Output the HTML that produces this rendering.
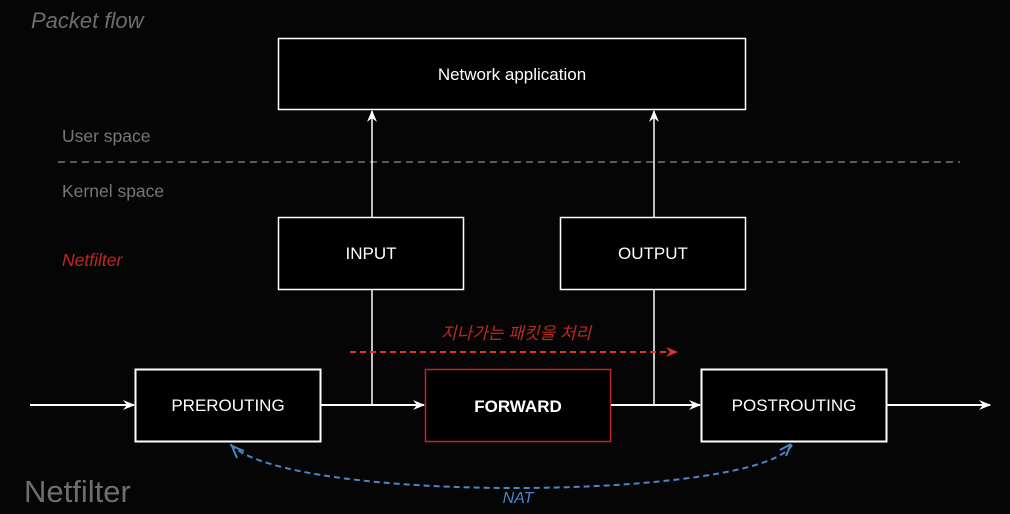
<!DOCTYPE html>
<html><head><meta charset="utf-8"><style>
html,body{margin:0;padding:0;background:#050505;}
svg{display:block}
.h{font-family:"Comic Sans MS","Liberation Sans","Noto Sans CJK KR",sans-serif;fill:#fff;font-size:17px;text-anchor:middle}
</style></head><body>
<svg width="1010" height="514" viewBox="0 0 1010 514" xmlns="http://www.w3.org/2000/svg">
<defs>
<marker id="aw" markerWidth="12" markerHeight="10" refX="11" refY="5" orient="auto" markerUnits="userSpaceOnUse"><path d="M0,0 L12,5 L0,10 L4,5 Z" fill="#fff"/></marker>
<marker id="ar" markerWidth="12" markerHeight="10" refX="11" refY="5" orient="auto" markerUnits="userSpaceOnUse"><path d="M0,0 L12,5 L0,10 L4,5 Z" fill="#e0302a"/></marker>
</defs>
<rect width="1010" height="514" fill="#050505"/>
<text x="31" y="28" font-family="Liberation Sans,sans-serif" font-style="italic" font-size="22" fill="#6e6e6e">Packet flow</text>
<text x="62" y="142" font-family="Liberation Sans,sans-serif" font-size="17.5" fill="#777">User space</text>
<text x="62" y="197" font-family="Liberation Sans,sans-serif" font-size="17.5" fill="#777">Kernel space</text>
<text x="62" y="266" font-family="Liberation Sans,sans-serif" font-style="italic" font-size="17.5" fill="#c0281f">Netfilter</text>
<text x="24" y="502" font-family="Liberation Sans,sans-serif" font-size="31" fill="#6e6e6e">Netfilter</text>
<line x1="58" y1="162" x2="960" y2="162" stroke="#777" stroke-width="1.5" stroke-dasharray="7,5"/>
<rect x="278.5" y="38.5" width="467" height="71" fill="#000" stroke="#fff" stroke-width="1.5"/>
<text class="h" x="512" y="80">Network application</text>
<rect x="278.5" y="217.5" width="185" height="72" fill="#000" stroke="#fff" stroke-width="1.5"/>
<text class="h" x="371" y="259">INPUT</text>
<rect x="560.5" y="217.5" width="185" height="72" fill="#000" stroke="#fff" stroke-width="1.5"/>
<text class="h" x="653" y="259">OUTPUT</text>
<line x1="372" y1="217" x2="372" y2="111" stroke="#fff" stroke-width="1.5" marker-end="url(#aw)"/>
<line x1="654" y1="217" x2="654" y2="111" stroke="#fff" stroke-width="1.5" marker-end="url(#aw)"/>
<line x1="372" y1="290" x2="372" y2="405" stroke="#fff" stroke-width="1.5"/>
<line x1="654" y1="290" x2="654" y2="405" stroke="#fff" stroke-width="1.5"/>
<rect x="135.5" y="369.5" width="185" height="72" fill="#000" stroke="#fff" stroke-width="2"/>
<text class="h" x="228" y="411">PREROUTING</text>
<rect x="425.5" y="369.5" width="185" height="72" fill="#000" stroke="#c0281f" stroke-width="1.5"/>
<text class="h" x="518" y="412" font-weight="bold">FORWARD</text>
<rect x="701.5" y="369.5" width="185" height="72" fill="#000" stroke="#fff" stroke-width="2"/>
<text class="h" x="794" y="411">POSTROUTING</text>
<line x1="30" y1="405" x2="134" y2="405" stroke="#fff" stroke-width="2" marker-end="url(#aw)"/>
<line x1="321" y1="405" x2="424" y2="405" stroke="#fff" stroke-width="2" marker-end="url(#aw)"/>
<line x1="611" y1="405" x2="700" y2="405" stroke="#fff" stroke-width="2" marker-end="url(#aw)"/>
<line x1="887" y1="405" x2="990" y2="405" stroke="#fff" stroke-width="2" marker-end="url(#aw)"/>
<line x1="350" y1="352" x2="677" y2="352" stroke="#e0302a" stroke-width="2" stroke-dasharray="6,4" marker-end="url(#ar)"/>
<text x="516" y="339" text-anchor="middle" font-family="Liberation Sans,'Noto Sans CJK KR',sans-serif" font-style="italic" font-size="17" fill="#c0281f">지나가는 패킷을 처리</text>
<path d="M792,445 C760,500 290,505 230,444" fill="none" stroke="#4a86c8" stroke-width="2" stroke-dasharray="6,4"/>
<path d="M232,446 L237,458 M232,446 L244,451" stroke="#4a86c8" stroke-width="2"/>
<path d="M791,444 L786,456 M791,444 L780,450" stroke="#4a86c8" stroke-width="2"/>
<text x="518" y="503" text-anchor="middle" font-family="Liberation Sans,sans-serif" font-style="italic" font-size="16" fill="#4a86c8">NAT</text>
</svg>
</body></html>
